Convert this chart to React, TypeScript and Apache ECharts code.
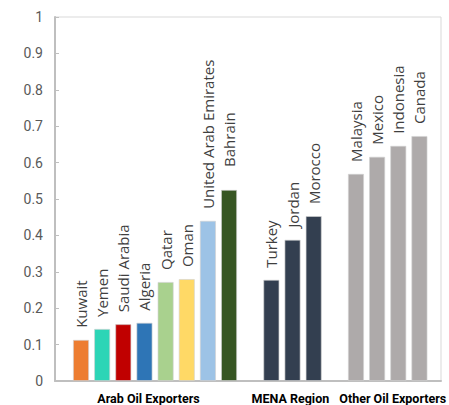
import React, { useEffect, useRef } from "react";
import * as echarts from "echarts";

const countries = [
  "Kuwait", "Yemen", "Saudi Arabia", "Algeria", "Qatar", "Oman", "United Arab Emirates", "Bahrain",
  "Turkey", "Jordan", "Morocco",
  "Malaysia", "Mexico", "Indonesia", "Canada",
];
const positions = [0, 1, 2, 3, 4, 5, 6, 7, 9, 10, 11, 13, 14, 15, 16];
const values = [0.113, 0.143, 0.156, 0.16, 0.272, 0.28, 0.44, 0.525, 0.278, 0.388, 0.453, 0.569, 0.616, 0.646, 0.673];
const colors = [
  "#ED7D31", "#2CD5B6", "#C00000", "#2E75B6", "#A9D18E", "#FFD966", "#9DC3E6", "#375623",
  "#333F50", "#333F50", "#333F50",
  "#AEAAAA", "#AEAAAA", "#AEAAAA", "#AEAAAA",
];
const groupNames = ["Arab Oil Exporters", "MENA Region", "Other Oil Exporters"];
const groupCenters = [3.19, 9.9, 14.74];
const yTicks = [0, 0.1, 0.2, 0.3, 0.4, 0.5, 0.6, 0.7, 0.8, 0.9, 1];

export default function App() {
  const ref = useRef<HTMLDivElement>(null);
  useEffect(() => {
    document.body.style.margin = "0";
    if (!ref.current) return;
    const chart = echarts.init(ref.current, undefined, { renderer: "svg" });
    chart.setOption({
      animation: false,
      grid: { left: 55, top: 17, right: 8, bottom: 24, show: true, borderColor: "#d9d9d9", borderWidth: 1 },
      xAxis: {
        type: "value",
        min: -1.23,
        max: 17.02,
        axisLine: { show: true, onZero: false, lineStyle: { color: "#bfbfbf", width: 2 } },
        axisTick: { show: false },
        axisLabel: { show: false },
        splitLine: { show: false },
      },
      yAxis: {
        type: "value",
        min: 0,
        max: 1,
        interval: 0.1,
        axisLine: { show: true, onZero: false, lineStyle: { color: "#bfbfbf", width: 2 } },
        axisTick: { show: true, inside: true, length: 4, lineStyle: { color: "#bfbfbf" } },
        splitLine: { show: false },
        axisLabel: {
          color: "#595959",
          fontSize: 14,
          fontFamily: "Liberation Sans Narrow, Roboto, sans-serif",
          margin: 12,
          formatter: (v: number) => {
            const t = yTicks.find((x) => Math.abs(x - v) < 1e-6);
            return t === undefined ? "" : String(t);
          },
        },
      },
      series: [
        {
          type: "bar",
          barWidth: 16,
          data: values.map((v, i) => ({
            value: [positions[i], v],
            name: countries[i],
            itemStyle: { color: colors[i], borderColor: "rgba(210,210,210,0.8)", borderWidth: 0.8 },
            label: countries[i] === "Bahrain" ? { distance: 23 } : undefined,
          })),
          label: {
            show: true,
            position: "top",
            rotate: 90,
            align: "left",
            verticalAlign: "middle",
            distance: 12,
            color: "#3f3f3f",
            fontSize: 15,
            fontFamily: "Open Sans, sans-serif",
            formatter: (p: any) => p.name,
          },
        },
      ],
    });
    const y = 398;
    chart.setOption({
      graphic: groupNames.map((name, i) => {
        const [px] = chart.convertToPixel({ gridIndex: 0 }, [groupCenters[i], 0]) as number[];
        return {
          type: "text",
          x: px,
          y,
          style: {
            text: name,
            fill: "#000",
            font: "bold 12.5px 'Liberation Sans Narrow', 'Roboto', sans-serif",
            textAlign: "center",
            textVerticalAlign: "middle",
          },
        };
      }),
    });
    return () => chart.dispose();
  }, []);
  return <div ref={ref} style={{ width: 449, height: 405 }} />;
}
